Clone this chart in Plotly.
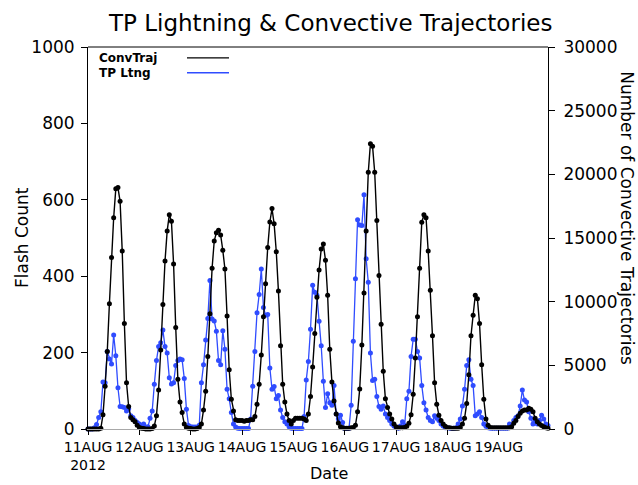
import pandas as pd
import plotly.graph_objects as go

# ---------------- data (hourly, 11 Aug 00Z .. 19 Aug 23Z 2012) ----------------
start_time = "2012-08-11 00:00"

# TP lightning flash count (left axis)
flash_count = [
    0, 0, 0, 3, 12, 30, 45, 123, 121, 203, 183, 170, 246, 192, 108, 59, 58, 56, 47, 53, 35, 30, 22, 17,
    13, 9, 13, 5, 6, 28, 47, 117, 179, 216, 226, 259, 216, 199, 134, 118, 121, 166, 179, 183, 181, 132, 52, 9,
    6, 5, 5, 5, 10, 121, 168, 233, 289, 389, 288, 283, 256, 179, 168, 257, 209, 104, 79, 43, 13, 5, 2, 1,
    1, 1, 1, 1, 26, 112, 203, 304, 352, 419, 318, 298, 300, 160, 104, 111, 79, 88, 50, 30, 19, 13, 6, 2,
    1, 1, 1, 1, 1, 33, 128, 177, 261, 376, 358, 350, 282, 218, 125, 56, 92, 69, 62, 114, 39, 26, 36, 17,
    1, 1, 2, 62, 230, 393, 548, 534, 533, 613, 446, 384, 199, 127, 130, 85, 59, 52, 60, 39, 30, 22, 13, 8,
    3, 2, 8, 19, 10, 79, 99, 190, 235, 235, 203, 186, 114, 69, 50, 30, 22, 19, 35, 28, 22, 13, 8, 3,
    3, 2, 2, 2, 3, 13, 26, 60, 104, 166, 181, 130, 114, 35, 39, 45, 30, 13, 7, 3, 2, 2, 2, 2,
    2, 2, 2, 2, 2, 13, 10, 22, 30, 35, 60, 102, 76, 71, 45, 28, 13, 22, 13, 22, 36, 26, 13, 9,
]

# Number of convective trajectories (right axis)
conv_traj = [
    0, 0, 0, 0, 0, 0, 60, 1110, 3360, 6090, 9840, 13470, 16590, 18870, 18960, 17880, 13980, 8280, 3630, 1770, 900, 720, 570, 300,
    120, 60, 30, 0, 0, 0, 30, 240, 1050, 3060, 6210, 9780, 13200, 15540, 16830, 16320, 12960, 7980, 3900, 2130, 1290, 390, 120, 60,
    30, 0, 0, 30, 120, 390, 1500, 2970, 5700, 9060, 12630, 14760, 15420, 15600, 15240, 14040, 12570, 8880, 4650, 2340, 1410, 720, 660, 660,
    660, 600, 660, 660, 720, 720, 990, 1950, 3510, 5820, 8820, 11400, 14250, 16260, 17310, 16110, 13920, 10830, 6540, 3510, 2130, 1170, 660, 390,
    660, 840, 840, 840, 840, 780, 660, 1170, 2550, 4860, 7500, 10350, 12480, 14130, 14520, 13260, 10500, 6270, 3690, 2190, 1170, 480, 180, 90,
    60, 60, 60, 90, 120, 300, 1350, 3150, 6600, 10680, 15540, 20160, 22410, 22200, 20160, 16380, 12060, 8220, 4530, 2370, 1680, 1170, 780, 390,
    180, 90, 90, 90, 120, 210, 450, 1110, 2730, 5580, 8820, 12630, 16230, 16830, 16590, 13980, 10890, 7320, 3630, 1950, 1080, 660, 390, 210,
    90, 90, 60, 60, 60, 60, 120, 390, 840, 2010, 4260, 7320, 8940, 10500, 10230, 8280, 5040, 2340, 780, 300, 120, 90, 90, 90,
    90, 90, 90, 90, 90, 90, 180, 450, 660, 990, 1230, 1410, 1500, 1500, 1620, 1560, 1350, 840, 570, 390, 270, 180, 90, 60,
]

day_ticks = ["2012-08-11", "2012-08-12", "2012-08-13", "2012-08-14", "2012-08-15",
             "2012-08-16", "2012-08-17", "2012-08-18", "2012-08-19"]
day_labels = ["11AUG<br>2012", "12AUG", "13AUG", "14AUG", "15AUG",
              "16AUG", "17AUG", "18AUG", "19AUG"]

left_ticks = [0, 200, 400, 600, 800, 1000]
right_ticks = [0, 5000, 10000, 15000, 20000, 25000, 30000]

# ---------------- styling ----------------
W, H = 638, 485
ML, MR, MT, MB = 88, 90, 47, 52
PW, PH = W - ML - MR, H - MT - MB
FONT = "DejaVu Sans"
BLUE = "#2f4cff"


def px(x):
    return (x - ML) / PW


def py(y):
    return (H - MB - y) / PH


times = pd.date_range(start_time, periods=len(flash_count), freq="h")

fig = go.Figure()
fig.add_trace(go.Scatter(
    x=times, y=flash_count, name="TP Ltng", mode="lines+markers",
    line=dict(color=BLUE, width=1.3), marker=dict(color=BLUE, size=5),
    cliponaxis=False, yaxis="y"))
fig.add_trace(go.Scatter(
    x=times, y=conv_traj, name="ConvTraj", mode="lines+markers",
    line=dict(color="black", width=1.4), marker=dict(color="black", size=5),
    cliponaxis=False, yaxis="y2"))

fig.update_layout(
    width=W, height=H,
    margin=dict(l=ML, r=MR, t=MT, b=MB, pad=0),
    paper_bgcolor="white", plot_bgcolor="white",
    showlegend=False,
    font=dict(family=FONT, color="black"),
    xaxis=dict(
        type="date", range=[times[0], times[-1]],
        tickmode="array", tickvals=day_ticks, ticktext=day_labels,
        ticks="outside", ticklen=5, tickwidth=1, tickcolor="black",
        tickfont=dict(family=FONT, size=14, color="black"),
        showgrid=False, zeroline=False,
        showline=True, linecolor="#a8a8a8", linewidth=1,
    ),
    yaxis=dict(
        range=[0, 1000], tickmode="array", tickvals=left_ticks,
        ticktext=[str(v) for v in left_ticks],
        ticks="outside", ticklen=6, tickwidth=1, tickcolor="black",
        tickfont=dict(family=FONT, size=17, color="black"),
        ticklabelstandoff=3,
        showgrid=False, zeroline=False,
        showline=True, linecolor="black", linewidth=1,
    ),
    yaxis2=dict(
        range=[0, 30000], overlaying="y", side="right",
        tickmode="array", tickvals=right_ticks,
        ticktext=[str(v) for v in right_ticks],
        ticks="outside", ticklen=6, tickwidth=1, tickcolor="black",
        tickfont=dict(family=FONT, size=17, color="black"),
        ticklabelstandoff=5,
        showgrid=False, zeroline=False,
        showline=True, linecolor="black", linewidth=1,
    ),
)

# top frame line
fig.add_shape(type="line", xref="paper", yref="paper", x0=0, x1=1, y0=1, y1=1,
              line=dict(color="black", width=1))

# legend (text left, line sample right)
legend_rows = [("ConvTraj", "black", 58), ("TP Ltng", BLUE, 73)]
for label, color, yy in legend_rows:
    fig.add_annotation(text=label, xref="paper", yref="paper", x=px(97), y=py(yy),
                       xanchor="left", yanchor="middle", showarrow=False,
                       font=dict(family=FONT, size=12, color="black", weight="bold"))
    fig.add_shape(type="line", xref="paper", yref="paper", x0=px(187), x1=px(229),
                  y0=py(yy), y1=py(yy), line=dict(color=color, width=1.3))

# titles
fig.add_annotation(text="TP Lightning &amp; Convective Trajectories", xref="paper", yref="paper",
                   x=px(330), y=py(23), xanchor="center", yanchor="middle", showarrow=False,
                   font=dict(family=FONT, size=23, color="black"))
fig.add_annotation(text="Flash Count", xref="paper", yref="paper",
                   x=px(22), y=py(240), xanchor="center", yanchor="middle", showarrow=False,
                   textangle=-90, font=dict(family=FONT, size=17, color="black"))
fig.add_annotation(text="Number of Convective Trajectories", xref="paper", yref="paper",
                   x=px(627), y=py(220), xanchor="center", yanchor="middle", showarrow=False,
                   textangle=90, font=dict(family=FONT, size=17, color="black"))
fig.add_annotation(text="Date", xref="paper", yref="paper",
                   x=px(329), y=py(478), xanchor="center", yanchor="middle", showarrow=False,
                   font=dict(family=FONT, size=16, color="black"))

fig.write_html("out.html")
